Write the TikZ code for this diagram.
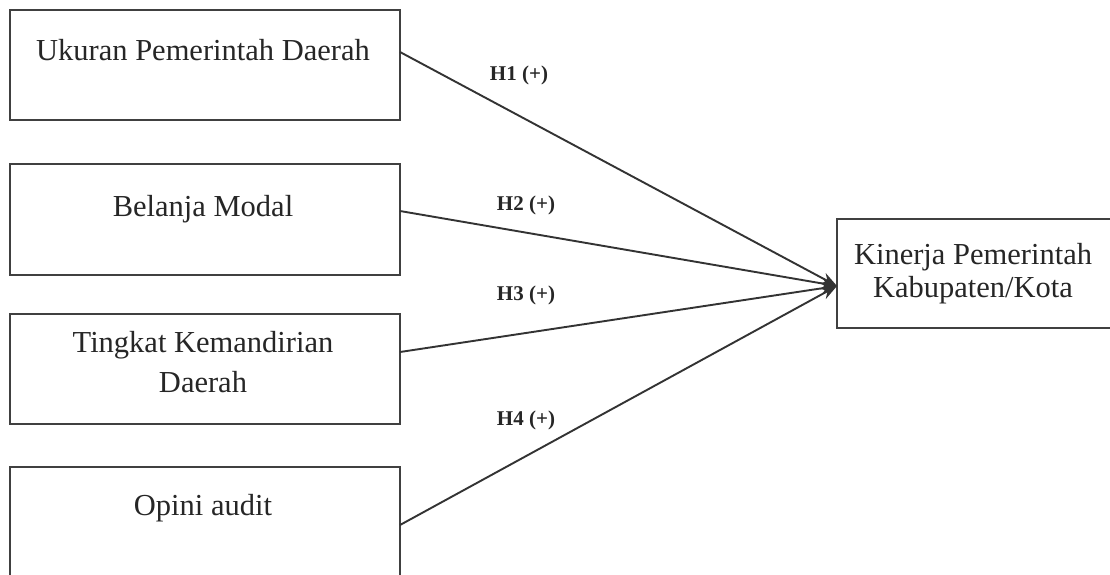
\documentclass[tikz,border=0pt]{standalone}
\usepackage{fontspec}
\setmainfont{Liberation Serif}
\usetikzlibrary{arrows.meta}
\tikzset{
  box/.style={draw=black!75, line width=2.6pt, inner sep=0pt, outer sep=0pt},
  boxtext/.style={inner sep=0pt, anchor=base, align=center, text=black!85,
    font=\fontsize{30.5}{40}\selectfont},
  hyp/.style={inner sep=0pt, anchor=base, text=black!85,
    font=\fontsize{21}{24}\selectfont\bfseries},
  link/.style={draw=black!80, line width=1.9pt, -{Stealth[length=16pt,width=12pt]}}
}
\begin{document}
\begin{tikzpicture}[x=1pt,y=-1pt]
\useasboundingbox (0,0) rectangle (1110,574);
\clip (0,0) rectangle (1110,574);
\fill[white] (0,0) rectangle (1110,574);
% left boxes
\node[box, minimum width=390pt, minimum height=110pt] (b1) at (205,65) {};
\node[box, minimum width=390pt, minimum height=111pt] (b2) at (205,219.5) {};
\node[box, minimum width=390pt, minimum height=110pt] (b3) at (205,369) {};
\node[box, minimum width=390pt, minimum height=110pt] (b4) at (205,522) {};
% right box
\node[box, minimum width=290pt, minimum height=109pt] (k) at (982,273.5) {};
% texts (base anchor = baseline of the last line)
\node[boxtext] (t1) at (203,60) {Ukuran Pemerintah Daerah};
\node[boxtext] (t2) at (203,216) {Belanja Modal};
\node[boxtext] (t3) at (203,392) {Tingkat Kemandirian\\Daerah};
\node[boxtext] (t4) at (203,515) {Opini audit};
\node[boxtext, font=\fontsize{30.5}{33}\selectfont] (tk) at (973,297) {Kinerja Pemerintah\\Kabupaten/Kota};
% hypothesis labels
\node[hyp] (h1) at (519,80) {H1 (+)};
\node[hyp] (h2) at (526,210) {H2 (+)};
\node[hyp] (h3) at (526,300) {H3 (+)};
\node[hyp] (h4) at (526,425) {H4 (+)};
% connectors
\coordinate (tip) at ([yshift=-12.5pt]k.west);
\draw[link] ([yshift=13pt]b1.east) -- (tip);
\draw[link] ([yshift=8.5pt]b2.east) -- (tip);
\draw[link] ([yshift=17pt]b3.east) -- (tip);
\draw[link] ([yshift=-3pt]b4.east) -- (tip);
\end{tikzpicture}
\end{document}
